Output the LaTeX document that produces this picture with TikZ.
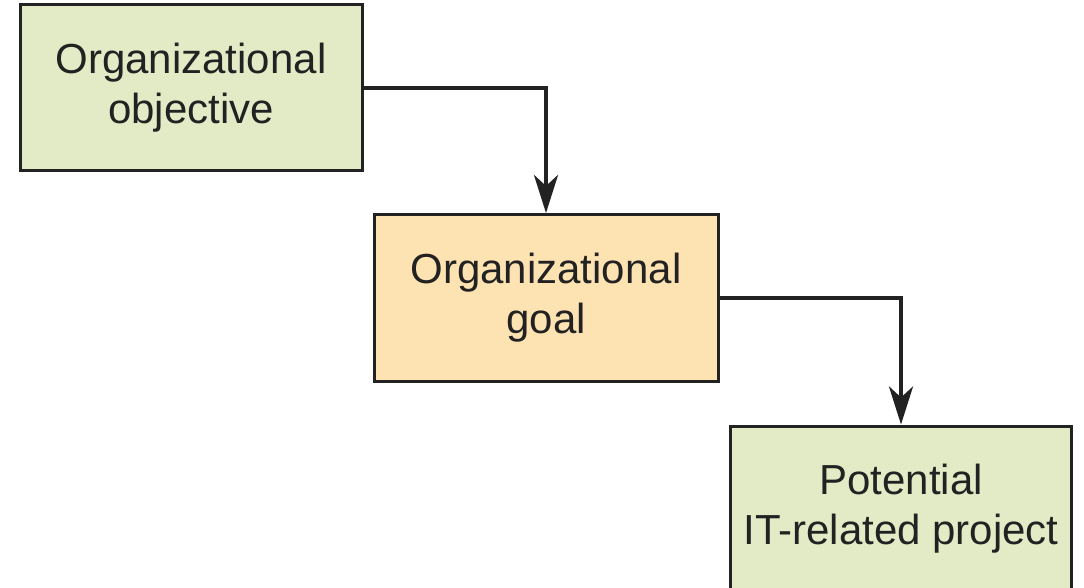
\documentclass[tikz,border=0pt]{standalone}
\usepackage{fontspec}
\setmainfont{Liberation Sans}
\usetikzlibrary{arrows.meta}
\definecolor{boxgreen}{HTML}{E2EBC6}
\definecolor{boxorange}{HTML}{FDE2B2}
\definecolor{ink}{HTML}{222222}
\tikzset{
  stagebox/.style={draw=ink, line width=3pt, minimum width=342pt, minimum height=165pt,
    inner sep=0pt, align=center, text=ink,
    font=\fontsize{42}{50}\selectfont},
  flow/.style={draw=ink, line width=4pt,
    -{Stealth[length=38pt, width=24pt, inset=11pt]}}
}
\begin{document}
\begin{tikzpicture}[x=1pt, y=1pt]
  \useasboundingbox (0,0) rectangle (1084,-588);
  \fill[white] (0,0) rectangle (1084,-588);
  \clip (0,0) rectangle (1084,-588);
  \node[stagebox, fill=boxgreen, minimum height=166pt] (obj) at (191,-88) {Organizational\\objective};
  \node[stagebox, fill=boxorange, minimum width=344pt, minimum height=167pt] (goal) at (546,-298) {Organizational\\goal};
  \node[stagebox, fill=boxgreen, minimum width=341pt, minimum height=166pt] (proj) at (901,-509) {Potential\\IT-related project};
  \draw[flow] (obj.east) -| (goal.north);
  \draw[flow] (goal.east) -| (proj.north);
\end{tikzpicture}
\end{document}
